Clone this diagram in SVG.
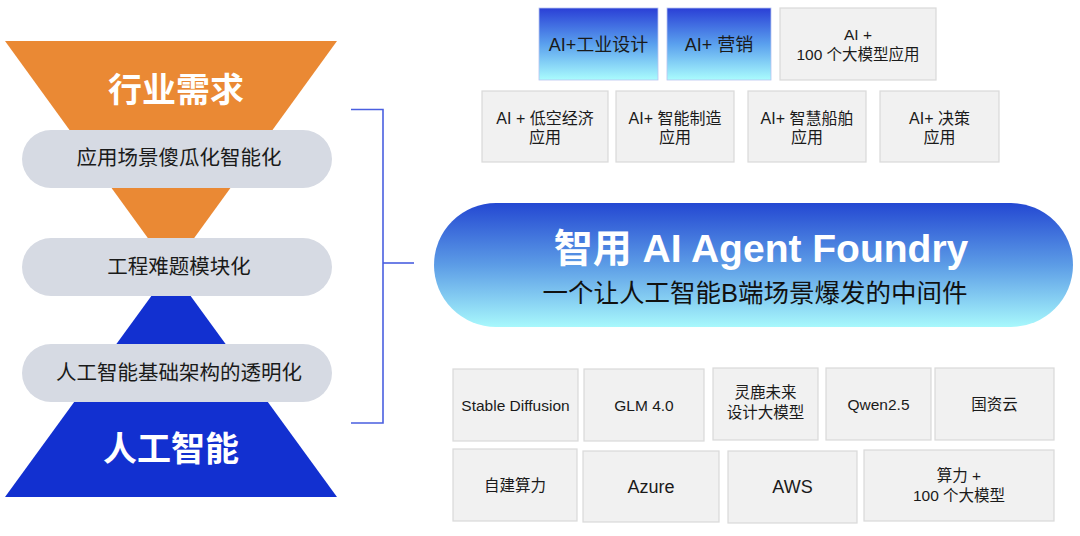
<svg xmlns="http://www.w3.org/2000/svg" width="1080" height="536" viewBox="0 0 1080 536">
<defs>
<linearGradient id="gTop" x1="0" y1="0" x2="0" y2="1">
<stop offset="0" stop-color="#2a3fd6"/>
<stop offset="0.5" stop-color="#5aa0ee"/>
<stop offset="1" stop-color="#aafcfd"/>
</linearGradient>
<linearGradient id="gMain" x1="0" y1="0" x2="0" y2="1">
<stop offset="0" stop-color="#2448d2"/>
<stop offset="0.5" stop-color="#5c9ce6"/>
<stop offset="1" stop-color="#a8f8fc"/>
</linearGradient>
<style>
.f{font-family:"Liberation Sans","Noto Sans CJK SC",sans-serif;}
.box{fill:#f1f1f1;stroke:#d9d9d9;stroke-width:1.2;}
.gbox{fill:url(#gTop);stroke:#b8c4f0;stroke-width:0.8;}
.pill{fill:#d6dae3;}
.t{font-family:"Liberation Sans","Noto Sans CJK SC",sans-serif;fill:#1a1a1a;text-anchor:middle;}
.s16{font-size:16px;}
.s15{font-size:15.5px;}
.s18{font-size:18px;}
.pt{font-family:"Liberation Sans","Noto Sans CJK SC",sans-serif;font-size:20.5px;fill:#1a1a1a;text-anchor:middle;}
.big{font-family:"Liberation Sans","Noto Sans CJK SC",sans-serif;font-size:34px;font-weight:bold;fill:#ffffff;text-anchor:middle;}
.br{stroke:#4a5fe0;stroke-width:1.6;fill:none;}
</style>
</defs>
<rect width="1080" height="536" fill="#ffffff"/>

<g id="funnel">
<polygon points="5,41 337,41 171,270" fill="#ea8934"/>
<polygon points="171,269 5,497 337,497" fill="#1230d0"/>
<text class="big" x="176" y="102">行业需求</text>
<text class="big" x="171" y="461">人工智能</text>
</g>

<g id="pill1">
<rect class="pill" x="22" y="130" width="310" height="58" rx="29"/>
<text class="pt" x="179" y="165">应用场景傻瓜化智能化</text>
</g>
<g id="pill2">
<rect class="pill" x="22" y="238" width="310" height="58" rx="29"/>
<text class="pt" x="179" y="274">工程难题模块化</text>
</g>
<g id="pill3">
<rect class="pill" x="22" y="344" width="310" height="58" rx="29"/>
<text class="pt" x="179" y="380">人工智能基础架构的透明化</text>
</g>

<g id="connectors">
<polyline class="br" points="351,109.5 383,109.5 383,423 351,423"/>
<line class="br" x1="383" y1="263" x2="414" y2="263"/>
</g>

<g id="main">
<rect x="434" y="203" width="639" height="124" rx="62" fill="url(#gMain)"/>
<text class="f" x="761" y="262" font-size="39" font-weight="bold" fill="#ffffff" text-anchor="middle">智用 AI Agent Foundry</text>
<text class="f" x="755" y="302" font-size="25.5" fill="#111111" text-anchor="middle">一个让人工智能B端场景爆发的中间件</text>
</g>

<g id="top1">
<rect class="gbox" x="539" y="8" width="119" height="72"/>
<text class="t s18" x="598.5" y="51">AI+工业设计</text>
</g>
<g id="top2">
<rect class="gbox" x="667" y="8" width="104" height="72"/>
<text class="t s18" x="719" y="51">AI+ 营销</text>
</g>
<g id="top3">
<rect class="box" x="780" y="8" width="156" height="72"/>
<text class="t s15" x="858" y="40">AI +</text>
<text class="t s15" x="858" y="60">100 个大模型应用</text>
</g>

<g id="app1">
<rect class="box" x="482" y="91" width="126" height="71"/>
<text class="t s16" x="545" y="124">AI + 低空经济</text>
<text class="t s16" x="545" y="143">应用</text>
</g>
<g id="app2">
<rect class="box" x="616" y="91" width="118" height="71"/>
<text class="t s16" x="675" y="124">AI+ 智能制造</text>
<text class="t s16" x="675" y="143">应用</text>
</g>
<g id="app3">
<rect class="box" x="748" y="91" width="118" height="71"/>
<text class="t s16" x="807" y="124">AI+ 智慧船舶</text>
<text class="t s16" x="807" y="143">应用</text>
</g>
<g id="app4">
<rect class="box" x="880" y="91" width="119" height="71"/>
<text class="t s16" x="939.5" y="124">AI+ 决策</text>
<text class="t s16" x="939.5" y="143">应用</text>
</g>

<g id="m1">
<rect class="box" x="453" y="369" width="125" height="72"/>
<text class="t s15" x="515.5" y="411">Stable Diffusion</text>
</g>
<g id="m2">
<rect class="box" x="584" y="369" width="120" height="72"/>
<text class="t s15" x="644" y="411">GLM 4.0</text>
</g>
<g id="m3">
<rect class="box" x="713" y="368" width="105" height="72"/>
<text class="t s15" x="765.5" y="398">灵鹿未来</text>
<text class="t s15" x="765.5" y="418">设计大模型</text>
</g>
<g id="m4">
<rect class="box" x="826" y="368" width="105" height="72"/>
<text class="t s15" x="878.5" y="410">Qwen2.5</text>
</g>
<g id="m5">
<rect class="box" x="935" y="368" width="119" height="72"/>
<text class="t s15" x="994.5" y="410">国资云</text>
</g>

<g id="c1">
<rect class="box" x="453" y="449" width="124" height="72"/>
<text class="t s15" x="515" y="491">自建算力</text>
</g>
<g id="c2">
<rect class="box" x="583" y="451" width="136" height="71"/>
<text class="t s18" x="651" y="493">Azure</text>
</g>
<g id="c3">
<rect class="box" x="728" y="451" width="129" height="72"/>
<text class="t s18" x="792.5" y="493">AWS</text>
</g>
<g id="c4">
<rect class="box" x="864" y="450" width="190" height="71"/>
<text class="t s15" x="959" y="481">算力 +</text>
<text class="t s15" x="959" y="501">100 个大模型</text>
</g>
</svg>
